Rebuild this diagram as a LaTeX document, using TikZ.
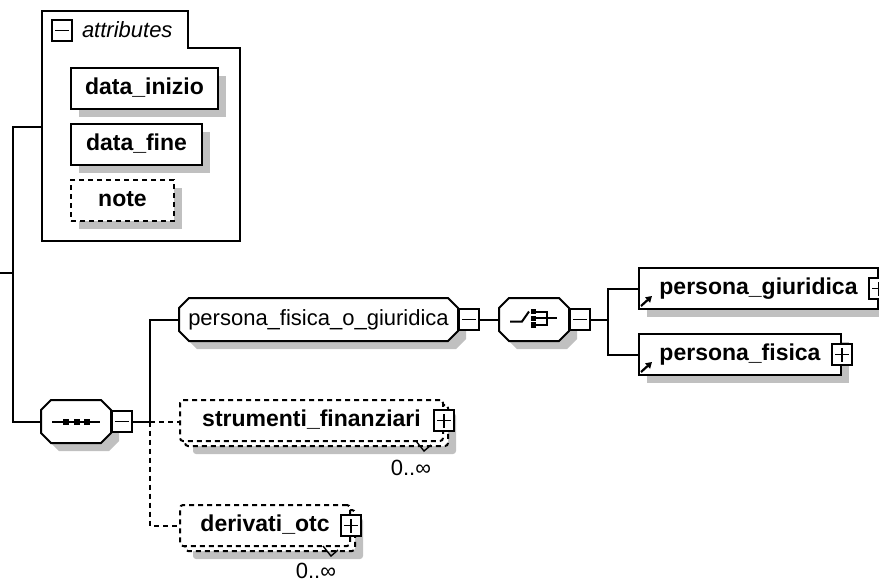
\documentclass[tikz,border=0pt]{standalone}
\usepackage{fontspec}
\setmainfont{Liberation Sans}
\usetikzlibrary{arrows.meta}
\definecolor{shgray}{RGB}{192,192,192}
\newcommand\octpath[2]{([xshift=#2]#1.north west) -- ([xshift=-#2]#1.north east) -- ([yshift=-#2]#1.north east) -- ([yshift=#2]#1.south east) -- ([xshift=-#2]#1.south east) -- ([xshift=#2]#1.south west) -- ([yshift=#2]#1.south west) -- ([yshift=-#2]#1.north west) -- cycle}
\begin{document}
\begin{tikzpicture}[x=1pt,y=-1pt,line width=2pt,
  shadowed/.style={preaction={fill=shgray,draw=none,transform canvas={xshift=8pt,yshift=-8pt}}},
  dsh/.style={dash pattern=on 5pt off 4pt},
  elem/.style={draw,fill=white,inner sep=0pt,minimum height=41pt,anchor=north west,
    font=\fontsize{23}{27}\selectfont\bfseries,text height=16pt,text depth=5pt},
  comp/.style={inner sep=0pt,minimum height=41pt},
  regtext/.style={font=\fontsize{22}{26}\selectfont,inner sep=0pt},
  boxbase/.style={draw,fill=white,inner sep=0pt,minimum width=20pt,minimum height=21pt,line width=1.8pt},
  minusbox/.style={boxbase,path picture={\draw[line width=1.8pt] ([xshift=-7pt]path picture bounding box.center) -- ([xshift=7pt]path picture bounding box.center);}},
  plusbox/.style={boxbase,path picture={\draw[line width=1.8pt] ([xshift=-7pt]path picture bounding box.center) -- ([xshift=7pt]path picture bounding box.center) ([yshift=-7pt]path picture bounding box.center) -- ([yshift=7pt]path picture bounding box.center);}},
  refarrow/.style={line width=2.2pt,-{Triangle[length=6pt,width=7pt]}}
]
\useasboundingbox (0,0) rectangle (879,582);

% ---------- attributes ----------
\draw[fill=white] (42,11) -- (188,11) -- (188,48) -- (240,48) -- (240,241) -- (42,241) -- cycle;
\coordinate (attrW) at (42,127);
\node[minusbox] (attrM) at (62,30.5) {};
\node[regtext,font=\fontsize{22}{26}\selectfont\itshape,anchor=base west] (attrT) at (81,37) {attributes};
\node[elem,shadowed,minimum width=147pt] (di) at (70,67) {data\_inizio};
\node[elem,shadowed,minimum width=131pt] (df) at (70,123) {data\_fine};
\node[elem,shadowed,dsh,minimum width=103pt] (nt) at (70,179) {note};

% ---------- sequence ----------
\node[comp,minimum width=68pt] (seq) at (76,421.5) {};
\draw[fill=white,shadowed] \octpath{seq}{10pt};
\draw (52,421.5) -- (100,421.5);
\fill (63,418.5) rectangle (69,424.5);
\fill (73.5,418.5) rectangle (79.5,424.5);
\fill (84,418.5) rectangle (90,424.5);
\node[minusbox,anchor=west] (seqM) at (seq.east) {};

% root connectors
\coordinate (in) at (0,272.5);
\coordinate (rx) at (12.5,127);
\draw (attrW) -- (rx) |- (seq.west);
\draw (in) -- (in -| rx);

% ---------- persona_fisica_o_giuridica ----------
\node[comp,minimum width=277pt] (pfog) at (318.5,319.5) {};
\draw[fill=white,shadowed] \octpath{pfog}{10pt};
\node[regtext] (pfogT) at (pfog.center) {persona\_fisica\_o\_giuridica};
\node[minusbox,anchor=west] (pfogM) at (pfog.east) {};

% ---------- choice ----------
\node[comp,minimum width=68pt] (ch) at (534,319.5) {};
\draw[fill=white,shadowed] \octpath{ch}{10pt};
\draw (510,321.5) -- (522,321.5) -- (529,311.5);
\fill (530.5,308.8) rectangle (536,314.3);
\fill (530.5,315.5) rectangle (536,321);
\fill (530.5,322.2) rectangle (536,327.7);
\draw (533,311.5) -- (547,311.5) -- (547,325) -- (533,325);
\draw (533,318.3) -- (557,318.3);
\node[minusbox,anchor=west] (chM) at (ch.east) {};
\draw (pfogM.east) -- (ch.west);

% ---------- persona_giuridica / persona_fisica ----------
\node[elem,shadowed,minimum width=239pt] (pg) at (638,267) {persona\_giuridica};
\node[plusbox] (pgP) at (pg.east) {};
\draw[refarrow] ([xshift=3pt,yshift=4pt]pg.south west) -- ([xshift=14pt,yshift=14pt]pg.south west);
\node[elem,shadowed,minimum width=202pt] (pf) at (638,333) {persona\_fisica};
\node[plusbox] (pfP) at (pf.east) {};
\draw[refarrow] ([xshift=3pt,yshift=4pt]pf.south west) -- ([xshift=14pt,yshift=14pt]pf.south west);

\coordinate (cb) at (608,319.5);
\draw (chM.east) -- (cb);
\draw (cb) |- (pg.west);
\draw (cb) |- (pf.west);

% ---------- strumenti_finanziari ----------
\node[elem,shadowed,dsh,rounded corners=3pt,minimum width=263pt] (stB) at (184,404) {};
\node[elem,dsh,rounded corners=3pt,minimum width=263pt] (st) at (179,399) {strumenti\_finanziari};
\node[plusbox] (stP) at (st.east) {};
\node[regtext,anchor=base east] (stm) at (432,475) {0..∞};
\draw[line width=1.4pt] (416,441) -- (424,451) -- (431,445);

% ---------- derivati_otc ----------
\node[elem,shadowed,dsh,rounded corners=3pt,minimum width=170pt] (dvB) at (184,509) {};
\node[elem,dsh,rounded corners=3pt,minimum width=170pt] (dv) at (179,504) {derivati\_otc};
\node[plusbox] (dvP) at (dv.east) {};
\node[regtext,anchor=base east] (dvm) at (337,578) {0..∞};
\draw[line width=1.4pt] (323,546) -- (331,556) -- (338,550);

% ---------- sequence connectors ----------
\coordinate (sb) at (150,421.5);
\draw (seqM.east) -- (sb);
\draw (sb) |- (pfog.west);
\draw[dsh] (sb) -- (sb -| st.west);
\draw[dsh] (sb) |- (dv.west);
\end{tikzpicture}
\end{document}
